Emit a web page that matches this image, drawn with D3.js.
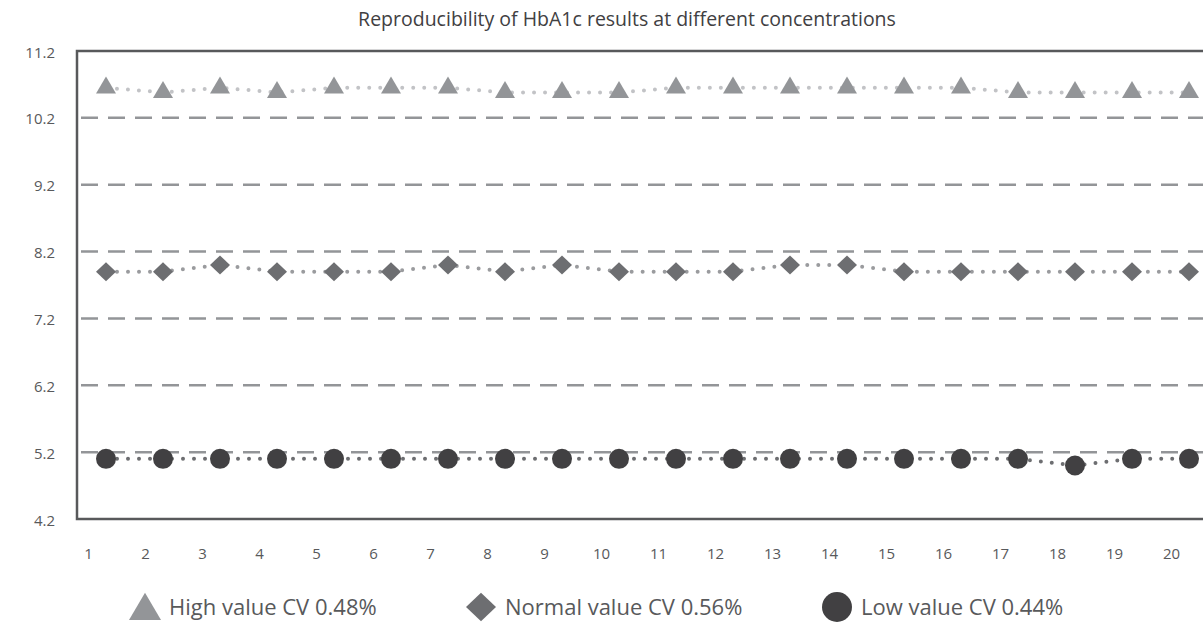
<!DOCTYPE html>
<html>
<head>
<meta charset="utf-8">
<script src="https://cdn.jsdelivr.net/npm/d3@7"></script>
<style>
body { margin: 0; background: #fff; }
text { font-family: "Open Sans", sans-serif; }
</style>
</head>
<body>
<div id="chart-area"></div>
<script>
// data
var runs = [1, 2, 3, 4, 5, 6, 7, 8, 9, 10, 11, 12, 13, 14, 15, 16, 17, 18, 19, 20]
var highValues = [10.65, 10.58, 10.65, 10.58, 10.65, 10.65, 10.65, 10.58, 10.58, 10.58,
                  10.65, 10.65, 10.65, 10.65, 10.65, 10.65, 10.58, 10.58, 10.58, 10.58]
var normalValues = [7.9, 7.9, 8.0, 7.9, 7.9, 7.9, 8.0, 7.9, 8.0, 7.9,
                    7.9, 7.9, 8.0, 8.0, 7.9, 7.9, 7.9, 7.9, 7.9, 7.9]
var lowValues = [5.1, 5.1, 5.1, 5.1, 5.1, 5.1, 5.1, 5.1, 5.1, 5.1,
                 5.1, 5.1, 5.1, 5.1, 5.1, 5.1, 5.1, 5.0, 5.1, 5.1]
var yTicks = [4.2, 5.2, 6.2, 7.2, 8.2, 9.2, 10.2, 11.2]
var seriesNames = ["High value CV 0.48%", "Normal value CV 0.56%", "Low value CV 0.44%"]
var title = "Reproducibility of HbA1c results at different concentrations"

var series = [
    {name: seriesNames[0], values: highValues, shape: "triangle", fill: "#939598", dots: "#c2c3c6"},
    {name: seriesNames[1], values: normalValues, shape: "diamond", fill: "#6d6e71", dots: "#9a9b9e"},
    {name: seriesNames[2], values: lowValues, shape: "circle", fill: "#414042", dots: "#6d6e71"}
]

var m = {l: 77, t: 51, r: -12, b: 117}
var cw = 1203
var ch = 636
var w = cw - m.l - m.r
var h = ch - m.t - m.b

var svg = d3.select("#chart-area").append("svg")
    .attr("width", cw)
    .attr("height", ch)

svg.append("text")
    .attr("x", 627)
    .attr("y", 26)
    .attr("text-anchor", "middle")
    .style("font-size", "19.5px")
    .attr("fill", "#414042")
    .text(title)

var g = svg.append("g").attr("transform", "translate(" + m.l + ", " + m.t + ")")

var x = d3.scalePoint()
    .domain(runs)
    .range([29, 1112])

var y = d3.scaleLinear()
    .domain([yTicks[0], yTicks[yTicks.length - 1]])
    .range([h, 0])

// marker shapes
function shapePath(shape, s) {
    if (shape == "triangle") {
        var tw = s, th = s * 0.85
        return "M0," + (-th * 2 / 3) + "L" + (tw / 2) + "," + (th / 3) + "L" + (-tw / 2) + "," + (th / 3) + "Z"
    }
    if (shape == "diamond") {
        var dh = s * 0.95
        return "M0," + (-dh / 2) + "L" + (s / 2) + ",0L0," + (dh / 2) + "L" + (-s / 2) + ",0Z"
    }
    var r = s / 2
    return "M" + r + ",0A" + r + "," + r + " 0 1,1 " + (-r) + ",0A" + r + "," + r + " 0 1,1 " + r + ",0Z"
}

// grid
g.selectAll(".grid")
    .data(yTicks.slice(1, -1))
    .enter()
    .append("line")
    .attr("class", "grid")
    .attr("x1", 4)
    .attr("x2", w)
    .attr("y1", d => y(d))
    .attr("y2", d => y(d))
    .attr("stroke", "#939598")
    .attr("stroke-width", 2.5)
    .attr("stroke-dasharray", "17,10")

// frame
g.append("rect")
    .attr("x", 0)
    .attr("y", 0)
    .attr("width", w)
    .attr("height", h)
    .attr("fill", "none")
    .attr("stroke", "#58595b")
    .attr("stroke-width", 2.5)

var leftAxis = d3.axisLeft(y)
    .tickValues(yTicks)
    .tickSize(0)
    .tickPadding(22)
    .tickFormat(d3.format(".1f"))

var yAxisGroup = g.append("g")
    .attr("class", "left axis")
    .call(leftAxis)
yAxisGroup.select(".domain").remove()
yAxisGroup.selectAll("text")
    .style("font-size", "15px")
    .attr("fill", "#58595b")
    .attr("dy", "0.4em")
    .style("font-family", "'Open Sans', sans-serif")

var bottomAxis = d3.axisBottom(x)
    .tickSize(0)
    .tickPadding(29)

var xAxisGroup = g.append("g")
    .attr("class", "bottom axis")
    .attr("transform", "translate(-18, " + h + ")")
    .call(bottomAxis)
xAxisGroup.select(".domain").remove()
xAxisGroup.selectAll("text")
    .style("font-size", "15px")
    .attr("fill", "#58595b")
    .style("font-family", "'Open Sans', sans-serif")

var line = d3.line()
    .x((d, i) => x(runs[i]))
    .y(d => y(d))

var sg = g.selectAll(".series")
    .data(series)
    .enter()
    .append("g")
    .attr("class", "series")

sg.append("path")
    .attr("d", d => line(d.values))
    .attr("fill", "none")
    .attr("stroke", d => d.dots)
    .attr("stroke-width", 4)
    .attr("stroke-linecap", "round")
    .attr("stroke-dasharray", "0,11")

sg.selectAll(".marker")
    .data(d => d.values.map((v, i) => ({v: v, run: runs[i], s: d})))
    .enter()
    .append("path")
    .attr("class", "marker")
    .attr("transform", d => "translate(" + x(d.run) + "," + y(d.v) + ")")
    .attr("d", d => shapePath(d.s.shape, 20))
    .attr("fill", d => d.s.fill)

// legend
var legendX = [145, 481, 837]
var legend = svg.selectAll(".legend")
    .data(series)
    .enter()
    .append("g")
    .attr("class", "legend")
    .attr("transform", (d, i) => "translate(" + legendX[i] + ", 607)")

legend.append("path")
    .attr("d", d => d.shape == "triangle" ? shapePath("triangle", 32) : shapePath(d.shape, 30))
    .attr("transform", d => d.shape == "triangle" ? "translate(0,4)" : null)
    .attr("fill", d => d.fill)

legend.append("text")
    .attr("x", 24)
    .attr("dy", "0.35em")
    .style("font-size", "22px")
    .attr("fill", "#58595b")
    .text(d => d.name)
</script>
</body>
</html>
